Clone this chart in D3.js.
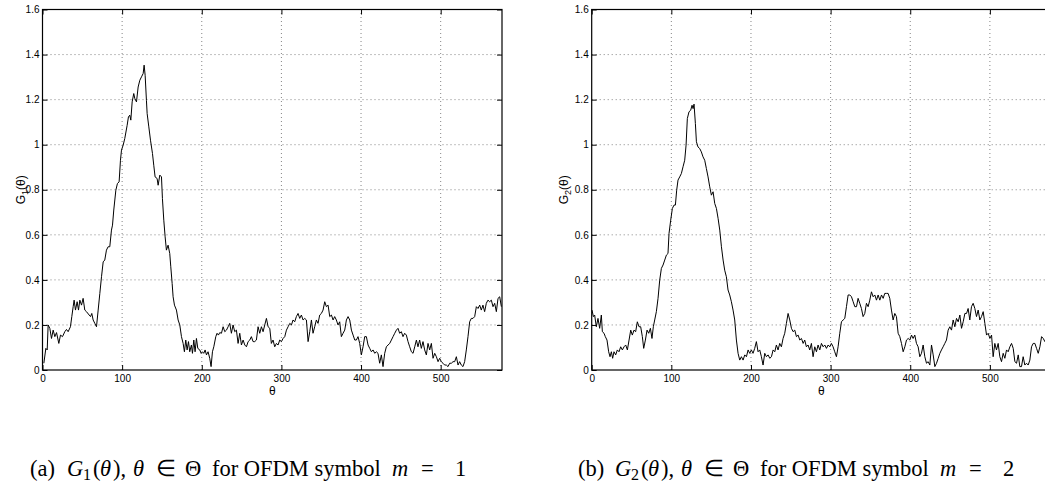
<!DOCTYPE html>
<html><head><meta charset="utf-8">
<script src="https://cdn.jsdelivr.net/npm/d3@7"></script>
<style>body{margin:0;background:#fff;} svg{display:block;}</style>
</head><body>
<svg id="chart" width="1045" height="491"></svg>
<script>
// ---- data: G1(theta), OFDM symbol m = 1 ----
const theta1 = [1.7,4.2,5.9,7.1,9.2,11.3,13.4,15.5,17.6,20.5,
22.6,25.1,28.0,30.1,32.2,35.1,36.8,38.5,39.7,41.4,
43.5,45.2,46.9,49.0,51.0,53.1,55.2,58.6,60.3,61.9,
63.6,65.7,67.8,69.9,72.0,74.1,76.2,78.2,80.3,82.4,
84.5,86.6,87.9,89.5,92.1,94.1,96.2,97.9,99.2,101.3,
103.3,106.3,107.9,109.6,110.9,112.6,114.6,115.9,118.0,120.1,
122.2,124.3,126.4,127.6,128.9,130.5,131.4,133.5,135.6,138.1,
139.7,141.4,143.9,145.2,147.3,149.4,150.6,152.3,154.0,155.6,
157.7,159.8,161.1,162.8,164.0,165.7,168.2,170.3,172.4,174.5,
176.6,178.2,179.9,181.6,183.3,184.9,187.0,188.3,190.0,191.6,
193.3,195.0,197.5,199.2,200.8,202.5,204.2,205.9,207.9,210.0,
211.7,213.4,215.1,217.6,219.2,220.9,222.6,
224.7,226.8,228.9,231.0,233.1,235.1,237.2,239.3,241.4,243.5,
245.6,247.7,249.8,251.9,254.0,256.1,258.2,260.3,262.3,264.4,
266.5,268.6,270.7,272.8,274.9,277.0,279.1,281.2,283.3,285.4,
287.4,289.5,291.6,293.7,295.8,297.9,300.0,302.1,304.2,306.3,
308.4,310.5,312.6,314.6,316.7,318.8,320.9,323.0,325.1,327.2,
329.3,331.4,333.5,335.6,337.7,339.7,341.8,343.9,346.0,348.1,
350.2,352.3,354.4,356.5,358.6,360.7,362.8,364.9,366.9,369.0,
371.1,373.2,375.3,377.4,379.5,381.6,383.7,385.8,387.9,390.0,
392.1,394.1,396.2,398.3,400.4,402.5,404.6,406.7,408.8,410.9,
413.0,415.1,417.2,419.2,421.3,423.4,425.5,427.6,429.7,431.8,
433.9,436.0,438.1,440.2,442.3,444.4,446.4,448.5,450.6,452.7,
454.8,456.9,459.0,461.1,463.2,465.3,467.4,469.5,471.5,473.6,
475.7,477.8,479.9,482.0,484.1,486.2,488.3,490.4,492.5,494.6,
496.7,498.7,500.8,502.9,505.0,507.1,509.2,511.3,513.4,515.5,
517.6,519.7,521.8,523.8,525.9,528.0,530.1,532.2,534.3,536.4,
538.5,540.6,542.7,544.8,546.9,549.0,551.0,553.1,555.2,557.3,
559.4,561.5,563.6,565.7,567.8,569.9,572.0,574.1,576.2];
const g1 = [.030,.096,.089,.200,.185,.140,.177,.148,.166,.118,
.155,.148,.170,.180,.170,.192,.237,.281,.310,.266,
.303,.266,.310,.288,.318,.266,.259,.244,.237,.251,
.222,.207,.192,.266,.340,.414,.480,.488,.532,.547,
.547,.621,.643,.710,.798,.828,.835,.931,.976,.998,
1.027,1.086,1.123,1.131,1.109,1.190,1.227,1.205,1.190,1.256,
1.286,1.301,1.316,1.353,1.308,1.197,1.138,1.079,1.020,.961,
.909,.857,.850,.820,.865,.857,.761,.665,.591,.532,
.554,.517,.458,.384,.325,.288,.266,.222,.200,.148,
.118,.081,.133,.089,.126,.081,.111,.074,.133,.081,
.140,.096,.089,.074,.081,.074,.089,.067,.081,.052,
.015,.081,.103,.148,.163,.155,.166,
.163,.192,.170,.177,.192,.207,.163,.200,.170,.177,
.118,.163,.111,.133,.111,.103,.126,.133,.148,.126,
.126,.133,.192,.163,.192,.170,.200,.229,.192,.185,
.118,.133,.103,.118,.111,.133,.126,.140,.148,.177,
.192,.207,.200,.222,.214,.237,.251,.229,.244,.222,
.229,.222,.126,.170,.222,.163,.192,.222,.207,.244,
.251,.266,.303,.281,.288,.237,.244,.222,.237,.222,
.200,.214,.148,.163,.177,.222,.237,.222,.177,.155,
.133,.133,.148,.118,.067,.103,.148,.148,.111,.096,
.081,.089,.074,.081,.074,.030,.067,.015,.074,.103,
.111,.118,.133,.148,.163,.177,.185,.163,.170,.148,
.163,.155,.126,.103,.081,.074,.103,.133,.103,.133,
.096,.126,.089,.067,.118,.089,.118,.052,.074,.059,
.037,.052,.037,.030,.022,.022,.015,.030,.030,.037,
.037,.059,.022,.037,.022,.015,.037,.089,.148,.214,
.229,.229,.237,.281,.273,.288,.266,.288,.259,.296,
.310,.303,.310,.281,.296,.259,.318,.325,.281];

// ---- data: G2(theta), OFDM symbol m = 2 ----
const theta2 = [0.4,2.1,3.7,5.8,7.9,10.0,12.1,13.4,15.5,17.1,
19.2,21.3,23.0,24.7,26.3,28.0,30.1,32.2,34.3,36.4,
38.5,40.6,42.7,44.8,46.9,49.0,51.0,53.1,55.2,57.3,
59.4,61.5,63.6,65.3,67.4,69.5,71.6,73.7,75.7,77.4,
79.1,81.2,83.3,85.4,87.5,89.6,91.7,93.8,95.8,97.1,
99.2,101.3,103.4,105.1,106.7,108.4,110.5,112.6,114.7,116.8,
118.5,120.1,122.2,124.3,126.0,127.3,128.5,130.2,131.5,
133.5,135.6,137.7,139.8,141.9,144.0,146.1,148.2,150.3,152.4,
154.5,156.6,158.7,160.8,162.9,165.0,167.0,169.1,171.2,173.3,
175.4,177.5,179.6,181.7,183.8,185.9,188.0,190.1,192.2,194.3,
196.4,198.4,200.5,202.6,204.7,206.8,208.9,211.0,213.1,215.2,
217.3,219.4,221.5,223.6,225.7,227.8,229.9,231.9,234.0,236.1,
238.2,240.3,242.4,244.5,246.6,248.7,250.8,252.9,255.0,257.1,
259.2,261.3,263.4,265.5,267.5,269.6,271.7,273.8,275.9,278.0,
280.1,282.2,284.3,286.4,288.5,290.6,292.7,294.8,296.9,299.0,
301.0,303.1,305.2,307.3,309.4,311.5,313.6,315.7,317.8,319.9,
322.0,324.1,326.2,328.3,330.4,332.5,334.5,336.6,338.7,340.8,
342.9,345.0,347.1,349.2,351.3,353.4,355.5,357.6,359.7,361.8,
363.9,366.0,368.0,370.1,372.2,374.3,376.4,378.5,380.6,382.7,
384.8,386.9,389.0,391.1,393.2,395.3,397.4,399.5,401.6,403.6,
405.7,407.8,409.9,412.0,414.1,416.2,418.3,420.4,422.5,424.6,
426.7,428.8,430.9,433.0,435.1,437.2,439.2,441.3,443.4,445.5,
447.6,449.7,451.8,453.9,456.0,458.1,460.2,462.3,464.4,466.5,
468.6,470.7,472.7,474.8,476.9,479.0,481.1,483.2,485.3,487.4,
489.5,491.6,493.7,495.8,497.9,500.0,502.1,504.1,506.2,508.3,
510.4,512.5,514.6,516.7,518.8,520.9,523.0,525.1,527.2,529.3,
531.4,533.5,535.6,537.6,539.7,541.8,543.9,546.0,548.1,550.2,
552.3,554.4,556.5,558.6,560.7,562.8,564.9,567.0,569.1,572.0,575.0];
const g2 = [0.266,0.237,0.244,0.192,0.229,0.185,0.244,0.170,0.163,0.148,
0.133,0.081,0.059,0.081,0.052,0.081,0.067,0.089,0.081,0.103,
0.089,0.103,0.111,0.089,0.133,0.177,0.155,0.177,0.170,0.214,
0.192,0.192,0.148,0.096,0.133,0.177,0.163,0.185,0.140,0.192,
0.222,0.259,0.318,0.399,0.451,0.466,0.488,0.510,0.517,0.606,
0.665,0.717,0.732,0.732,0.798,0.843,0.857,0.872,0.902,0.931,
0.998,1.116,1.146,1.153,1.175,1.160,1.180,1.094,1.013,
0.990,0.983,
0.968,0.946,0.931,0.894,0.857,0.813,0.776,0.791,0.739,0.717,
0.673,0.621,0.547,0.488,0.443,0.414,0.355,0.333,0.303,0.266,
0.222,0.133,0.074,0.044,0.059,0.044,0.067,0.059,0.089,0.074,
0.089,0.074,0.096,0.126,0.081,0.089,0.059,0.022,0.074,0.059,
0.067,0.052,0.059,0.089,0.081,0.111,0.089,0.118,0.103,0.140,
0.163,0.207,0.251,0.222,0.185,0.170,0.177,0.148,0.155,0.133,
0.140,0.118,0.133,0.103,0.111,0.089,0.118,0.059,0.103,0.081,
0.111,0.089,0.118,0.103,0.111,0.096,0.111,0.103,0.118,0.103,
0.081,0.059,0.103,0.163,0.214,0.222,0.229,0.281,0.333,0.333,
0.325,0.303,0.281,0.281,0.318,0.296,0.273,0.237,0.251,0.296,
0.281,0.310,0.347,0.325,0.333,0.310,0.333,0.310,0.333,0.318,
0.340,0.340,0.340,0.318,0.266,0.222,0.251,0.237,0.163,0.148,
0.118,0.081,0.103,0.133,0.140,0.133,0.155,0.140,0.155,0.118,
0.103,0.059,0.074,0.111,0.059,0.030,0.037,0.022,0.111,0.067,
0.015,0.030,0.052,0.074,0.089,0.103,0.118,0.133,0.177,0.192,
0.177,0.222,0.192,0.229,0.214,0.244,0.185,0.214,0.251,0.251,
0.273,0.222,0.281,0.296,0.273,0.237,0.266,0.222,0.237,0.259,
0.207,0.155,0.163,0.140,0.155,0.059,0.118,0.089,0.118,0.059,
0.037,0.074,0.052,0.089,0.081,0.103,0.118,0.096,0.037,0.030,
0.067,0.015,0.015,0.059,0.022,0.030,0.022,0.044,0.103,0.118,
0.118,0.096,0.074,0.103,0.148,0.140,0.126,0.140,0.120];

// ---- axes / tick labels ----
const xDomain = [0, 577];
const yDomain = [0, 1.6];
const xTicks = [0, 100, 200, 300, 400, 500];
const xTickLabels = ["0", "100", "200", "300", "400", "500"];
const yTicks = [0, 0.2, 0.4, 0.6, 0.8, 1.0, 1.2, 1.4, 1.6];
const yTickLabels = ["0", "0.2", "0.4", "0.6", "0.8", "1", "1.2", "1.4", "1.6"];
const subscripts = ["1", "2"];
const captionLetters = ["(a)", "(b)"];
const symbolIndex = ["1", "2"];

// ---- layout ----
const svg = d3.select("#chart");
const plotTop = 9.5, plotBottom = 370, plotW = 459.5;
const panelLeft = [42.5, 591.7];
const yLabelX = [25, 568];
const captionLeft = [30, 578];
const series = [{t: theta1, v: g1}, {t: theta2, v: g2}];
const tickFont = "'Liberation Sans', Arial, Helvetica, sans-serif";
const serif = "'Liberation Serif', 'Times New Roman', Times, serif";

series.forEach((s, p) => {
  const L = panelLeft[p];
  const x = d3.scaleLinear().domain(xDomain).range([L, L + plotW]);
  const y = d3.scaleLinear().domain(yDomain).range([plotBottom, plotTop]);
  const g = svg.append("g");

  // grid
  g.append("g").selectAll("line").data(xTicks.slice(1)).join("line")
    .attr("x1", d => x(d)).attr("x2", d => x(d)).attr("y1", plotBottom).attr("y2", plotTop)
    .attr("stroke", "#666").attr("stroke-width", 0.8).attr("stroke-dasharray", "1,3");
  g.append("g").selectAll("line").data(yTicks.slice(1)).join("line")
    .attr("x1", L).attr("x2", L + plotW).attr("y1", d => y(d)).attr("y2", d => y(d))
    .attr("stroke", "#666").attr("stroke-width", 0.8).attr("stroke-dasharray", "1,3");

  // line
  const n = Math.min(s.t.length, s.v.length);
  const pts = d3.range(n).map(i => [s.t[i], s.v[i]]);
  g.append("path").datum(pts)
    .attr("fill", "none").attr("stroke", "#000").attr("stroke-width", 1)
    .attr("stroke-linejoin", "round")
    .attr("d", d3.line().x(d => x(d[0])).y(d => y(d[1])));

  // axes (inward ticks, MATLAB style)
  const styleAxis = sel => {
    sel.select(".domain").remove();
    sel.selectAll("line").attr("stroke", "#000").attr("stroke-width", 1);
    sel.selectAll("text").attr("font-family", tickFont).attr("font-size", 10).attr("fill", "#000");
    sel.attr("font-family", null).attr("font-size", null);
  };
  g.append("g").attr("transform", `translate(0,${plotBottom})`)
    .call(d3.axisBottom(x).tickValues(xTicks).tickFormat((d, i) => xTickLabels[i])
      .tickSizeInner(-5).tickSizeOuter(0).tickPadding(5)).call(styleAxis);
  g.append("g").attr("transform", `translate(0,${plotTop})`)
    .call(d3.axisTop(x).tickValues(xTicks).tickFormat("")
      .tickSizeInner(-5).tickSizeOuter(0)).call(styleAxis);
  g.append("g").attr("transform", `translate(${L},0)`)
    .call(d3.axisLeft(y).tickValues(yTicks).tickFormat((d, i) => yTickLabels[i])
      .tickSizeInner(-5).tickSizeOuter(0).tickPadding(3)).call(styleAxis);
  g.append("g").attr("transform", `translate(${L + plotW},0)`)
    .call(d3.axisRight(y).tickValues(yTicks).tickFormat("")
      .tickSizeInner(-5).tickSizeOuter(0)).call(styleAxis);

  // frame
  g.append("rect").attr("x", L).attr("y", plotTop).attr("width", plotW).attr("height", plotBottom - plotTop)
    .attr("fill", "none").attr("stroke", "#000").attr("stroke-width", 1.2);

  // x label
  g.append("text").attr("x", L + plotW / 2).attr("y", 395)
    .attr("text-anchor", "middle").attr("font-family", tickFont).attr("font-size", 12)
    .text("θ");

  // y label
  const yl = g.append("text")
    .attr("transform", `translate(${yLabelX[p]},${(plotTop + plotBottom) / 2}) rotate(-90)`)
    .attr("text-anchor", "middle").attr("font-family", tickFont).attr("font-size", 12);
  yl.append("tspan").text("G");
  yl.append("tspan").attr("dy", 3).attr("font-size", 9).text(subscripts[p]);
  yl.append("tspan").attr("dy", -3).text("(θ)");

  // caption: pieces placed like LaTeX math layout
  const pieces = [
    {t: captionLetters[p], dx: 0},
    {t: "G", dx: 37, it: true},
    {t: subscripts[p], dx: 53, sub: true},
    {t: "(", dx: 63},
    {t: "θ", dx: 70, it: true},
    {t: "),", dx: 83},
    {t: "θ", dx: 103, it: true},
    {t: "∈", dx: 126},
    {t: "Θ", dx: 155},
    {t: "for OFDM symbol", dx: 182},
    {t: "m", dx: 362, it: true},
    {t: "=", dx: 391},
    {t: symbolIndex[p], dx: 425}
  ];
  const cap = svg.append("g").attr("font-family", serif).attr("fill", "#000");
  pieces.forEach(pc => {
    cap.append("text")
      .attr("x", captionLeft[p] + pc.dx)
      .attr("y", pc.sub ? 480 : 476)
      .attr("font-size", pc.sub ? 16 : 22.5)
      .attr("font-style", pc.it ? "italic" : "normal")
      .text(pc.t);
  });
});
</script>
</body></html>
